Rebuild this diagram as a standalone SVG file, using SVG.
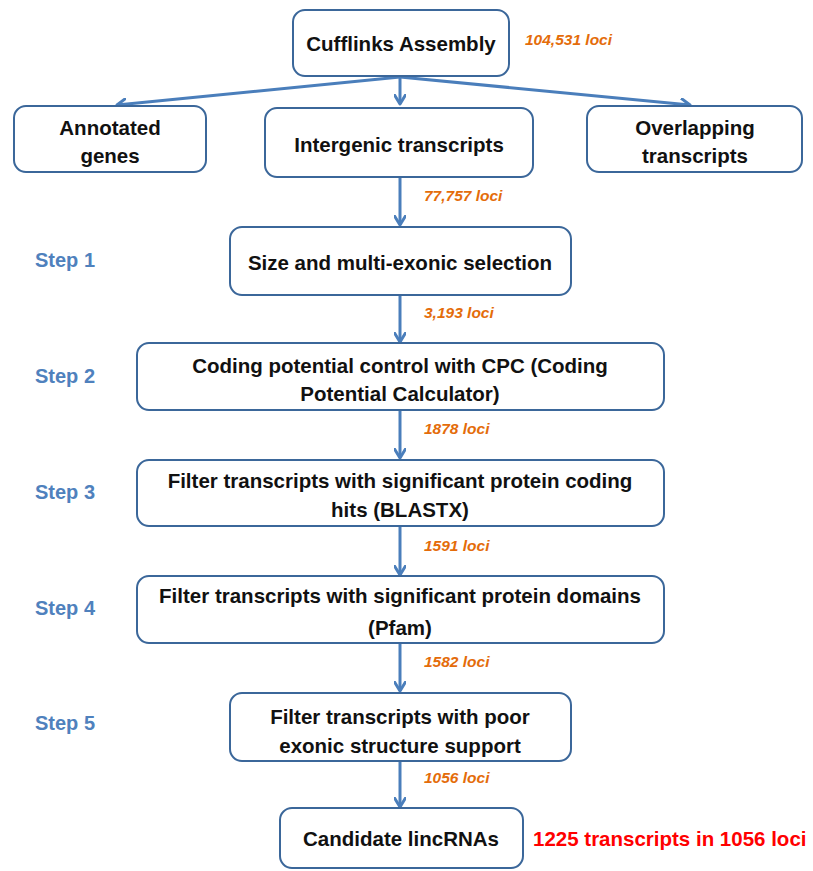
<svg xmlns="http://www.w3.org/2000/svg" width="813" height="871" viewBox="0 0 813 871">
<defs>
<marker id="ah" markerWidth="12" markerHeight="12" refX="10" refY="6" orient="auto" markerUnits="userSpaceOnUse">
<path d="M1,0.5 L10,6 L1,11.5" fill="none" stroke="#4a7ebb" stroke-width="3" stroke-linecap="round" stroke-linejoin="round"/>
</marker>
<style>
.box{fill:#fff;stroke:#3b679a;stroke-width:2}
.t{font-family:"Liberation Sans",Arial,sans-serif;font-weight:bold;font-size:20.5px;fill:#111;text-anchor:middle}
.step{font-family:"Liberation Sans",Arial,sans-serif;font-weight:bold;font-size:20px;fill:#4f81bd}
.loci{font-family:"Liberation Sans",Arial,sans-serif;font-weight:bold;font-style:italic;font-size:15.5px;fill:#e46c0a}
.red{font-family:"Liberation Sans",Arial,sans-serif;font-weight:bold;font-size:20.5px;fill:#ff0000}
.c{stroke:#4a7ebb;stroke-width:3;fill:none;marker-end:url(#ah)}
</style>
</defs>
<g id="connectors">
<line class="c" x1="400" y1="77" x2="117" y2="105"/>
<line class="c" x1="400" y1="77" x2="400" y2="104"/>
<line class="c" x1="400" y1="77" x2="690" y2="105"/>
<line class="c" x1="400" y1="178" x2="400" y2="225"/>
<line class="c" x1="400" y1="296" x2="400" y2="342"/>
<line class="c" x1="400" y1="411" x2="400" y2="458"/>
<line class="c" x1="400" y1="527" x2="400" y2="575"/>
<line class="c" x1="400" y1="644" x2="400" y2="691"/>
<line class="c" x1="400" y1="762" x2="400" y2="807"/>
</g>
<g id="cufflinks">
<rect class="box" x="293" y="10" width="216" height="66" rx="12"/>
<text class="t" x="401" y="51">Cufflinks Assembly</text>
<text class="loci" x="525" y="45">104,531 loci</text>
</g>
<g id="annotated">
<rect class="box" x="14" y="106" width="192" height="66" rx="12"/>
<text class="t" x="110" y="135">Annotated</text>
<text class="t" x="110" y="163">genes</text>
</g>
<g id="intergenic">
<rect class="box" x="265" y="108" width="268" height="69" rx="12"/>
<text class="t" x="399" y="152">Intergenic transcripts</text>
</g>
<g id="overlapping">
<rect class="box" x="587" y="106" width="215" height="66" rx="12"/>
<text class="t" x="695" y="135">Overlapping</text>
<text class="t" x="695" y="163">transcripts</text>
</g>
<g id="l1"><text class="loci" x="424" y="201">77,757 loci</text></g>
<g id="step1">
<text class="step" x="35" y="267">Step 1</text>
<rect class="box" x="230" y="227" width="341" height="68" rx="12"/>
<text class="t" x="400" y="270">Size and multi-exonic selection</text>
</g>
<g id="l2"><text class="loci" x="424" y="318">3,193 loci</text></g>
<g id="step2">
<text class="step" x="35" y="383">Step 2</text>
<rect class="box" x="137" y="343" width="527" height="67" rx="12"/>
<text class="t" x="400" y="373">Coding potential control with CPC (Coding</text>
<text class="t" x="400" y="401">Potential Calculator)</text>
</g>
<g id="l3"><text class="loci" x="424" y="434">1878 loci</text></g>
<g id="step3">
<text class="step" x="35" y="499">Step 3</text>
<rect class="box" x="137" y="460" width="527" height="66" rx="12"/>
<text class="t" x="400" y="488">Filter transcripts with significant protein coding</text>
<text class="t" x="400" y="517">hits (BLASTX)</text>
</g>
<g id="l4"><text class="loci" x="424" y="551">1591 loci</text></g>
<g id="step4">
<text class="step" x="35" y="615">Step 4</text>
<rect class="box" x="137" y="576" width="527" height="67" rx="12"/>
<text class="t" x="400" y="603">Filter transcripts with significant protein domains</text>
<text class="t" x="400" y="635">(Pfam)</text>
</g>
<g id="l5"><text class="loci" x="424" y="667">1582 loci</text></g>
<g id="step5">
<text class="step" x="35" y="730">Step 5</text>
<rect class="box" x="230" y="693" width="341" height="68" rx="12"/>
<text class="t" x="400" y="724">Filter transcripts with poor</text>
<text class="t" x="400" y="753">exonic structure support</text>
</g>
<g id="l6"><text class="loci" x="424" y="783">1056 loci</text></g>
<g id="candidate">
<rect class="box" x="280" y="808" width="243" height="60" rx="12"/>
<text class="t" x="401" y="846">Candidate lincRNAs</text>
<text class="red" x="533" y="846">1225 transcripts in 1056 loci</text>
</g>
</svg>
